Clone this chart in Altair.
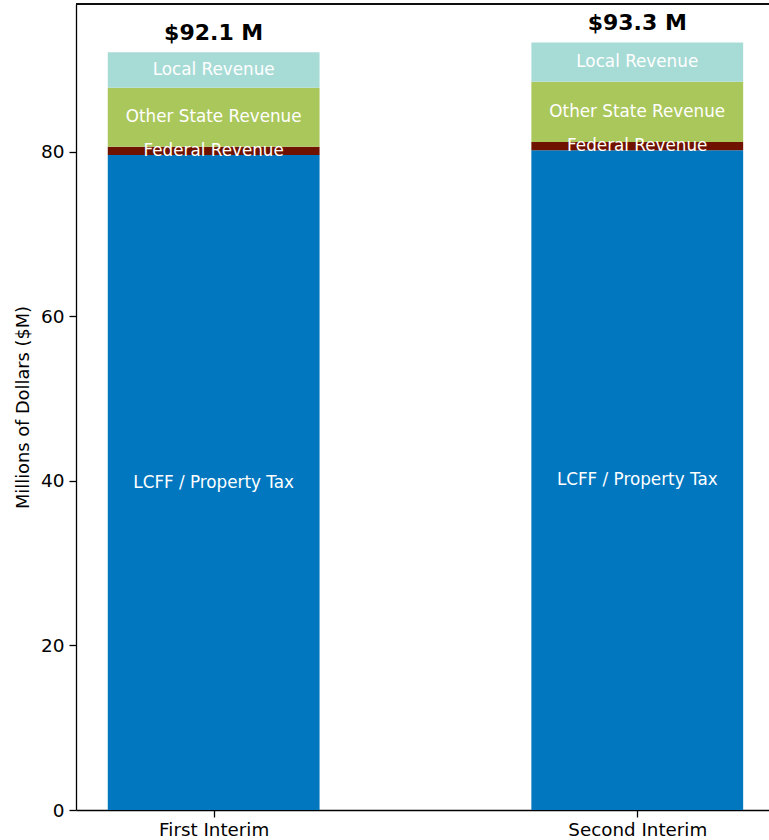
import altair as alt
import pandas as pd

periods = ["First Interim", "Second Interim"]
sources = ["LCFF / Property Tax", "Federal Revenue", "Other State Revenue", "Local Revenue"]
lcff = [79.6, 80.2]
federal = [1.0, 1.0]
other_state = [7.2, 7.3]
local = [4.3, 4.8]
totals = [92.1, 93.3]
colors = ["#0077BF", "#6F1300", "#AAC75B", "#A7DBD6"]

series = [lcff, federal, other_state, local]
rows = []
for i, p in enumerate(periods):
    base = 0.0
    for s, vals in zip(sources, series):
        v = vals[i]
        rows.append({"period": p, "pos": i, "source": s, "value": v,
                     "y0": base, "y1": base + v, "ymid": base + v / 2,
                     "xl": i - 0.25, "xr": i + 0.25})
        base += v
df = pd.DataFrame(rows)
tot = pd.DataFrame({"period": periods, "pos": list(range(len(periods))), "total": totals,
                    "label": [f"${t:.1f} M" for t in totals]})

W, H = 693, 806
FONT = "DejaVu Sans"
xscale = alt.Scale(domain=[-0.325, 1.311], nice=False, zero=False)
yscale = alt.Scale(domain=[0, 97.965], nice=False, zero=True)

label_expr = " : ".join(
    [f"datum.value == {i} ? '{p}'" for i, p in enumerate(periods[:-1])] + [f"'{periods[-1]}'"]
)

bars = alt.Chart(df).mark_bar(stroke=None).encode(
    x=alt.X("xl:Q", scale=xscale, title=None,
            axis=alt.Axis(values=list(range(len(periods))), labelExpr=label_expr, grid=False,
                          domainColor="black", domainWidth=1.3, tickColor="black", tickWidth=1.3,
                          tickSize=7, labelFontSize=18.3, labelColor="black", labelFont=FONT,
                          labelPadding=4)),
    x2="xr:Q",
    y=alt.Y("y0:Q", scale=yscale, title="Millions of Dollars ($M)",
            axis=alt.Axis(values=[0, 20, 40, 60, 80], grid=False, domainColor="black",
                          domainWidth=1.3, tickColor="black", tickWidth=1.3, tickSize=7,
                          labelFontSize=18.5, labelColor="black", labelFont=FONT, labelPadding=5,
                          titleFontSize=17.8, titleFont=FONT, titleFontWeight="normal",
                          titleColor="black", titlePadding=8)),
    y2="y1:Q",
    color=alt.Color("source:N", scale=alt.Scale(domain=sources, range=colors), legend=None),
)

seg_labels = alt.Chart(df).mark_text(color="white", fontSize=16.8, font=FONT,
                                     baseline="middle", align="center").encode(
    x=alt.X("pos:Q", scale=xscale),
    y=alt.Y("ymid:Q", scale=yscale),
    text="source:N",
)

total_labels = alt.Chart(tot).mark_text(color="black", fontSize=22, font=FONT, fontWeight="bold",
                                        baseline="alphabetic", align="center", dy=-12).encode(
    x=alt.X("pos:Q", scale=xscale),
    y=alt.Y("total:Q", scale=yscale),
    text="label:N",
)

top_spine = alt.Chart(tot).mark_rule(color="black", strokeWidth=1.3).encode(
    x=alt.value(0), x2=alt.value(W), y=alt.value(0)
)

chart = alt.layer(bars, seg_labels, total_labels, top_spine).properties(
    width=W, height=H,
    padding={"left": 76, "top": 4, "right": 0, "bottom": 30},
    autosize=alt.AutoSizeParams(type="none"),
).configure_view(stroke=None).configure(background="white")

chart.save("out.html", embed_options={"renderer": "svg", "actions": False})
